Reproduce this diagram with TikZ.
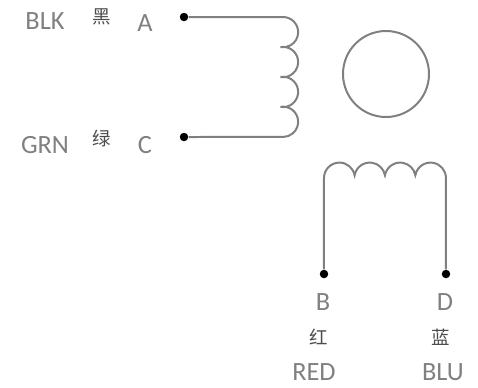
\documentclass[tikz,border=0pt]{standalone}
\usepackage{fontspec}
\setmainfont{Carlito}
\newfontfamily\cjk{Noto Sans CJK SC}
\tikzset{
	wire/.style={line width=0.04cm, draw=black!50},
	term/.style={circle, fill=black, inner sep=0, minimum size=0.17cm},
	lbl/.style={text=black!50, inner sep=0, font=\fontsize{15}{17}\selectfont},
	cjklbl/.style={text=black!70, inner sep=0, font=\cjk\fontsize{10.5}{12}\selectfont},
}

\begin{document}
\begin{tikzpicture}[x=0.02cm, y=0.02cm]
		%%%%% FRAME %%%%%
		\useasboundingbox (0, 0) rectangle (478, 387);
		
		\node[term] (termA) at (184, 370) {};
		\node[term] (termC) at (184, 250) {};
		\node[term] (termB) at (324, 113) {};
		\node[term] (termD) at (446, 113) {};
		
		\coordinate (coilA) at (283, 370);
		\coordinate (coilB) at (324, 209);
		
		%%%%% WINDINGS %%%%%
		\draw[wire] (termA) -- (coilA) arc (90:-100:15.17) arc (100:-100:15.17) arc (100:-100:15.17) arc (100:-90:15.17) -- (termC);
		\draw[wire] (termB) -- (coilB) arc (180:10:15.42) arc (170:10:15.42) arc (170:10:15.42) arc (170:0:15.42) -- (termD);
		
		%%%%% ROTOR %%%%%
		\draw[wire] (386, 313) circle (43);
		
		%%%%% LABELS %%%%%
		\node[lbl] (nameBLK) at (45, 366) {BLK};
		\node[cjklbl] (cjkBLK) at (102, 370) {黑};
		\node[lbl] (pinA) at (145, 364) {A};
		
		\node[lbl] (nameGRN) at (45, 242) {GRN};
		\node[cjklbl] (cjkGRN) at (102, 249) {绿};
		\node[lbl] (pinC) at (145, 242) {C};
		
		\node[lbl] (pinB) at (323, 85) {B};
		\node[cjklbl] (cjkRED) at (319, 50) {红};
		\node[lbl] (nameRED) at (314, 15) {RED};
		
		\node[lbl] (pinD) at (445, 85) {D};
		\node[cjklbl] (cjkBLU) at (441, 50) {蓝};
		\node[lbl] (nameBLU) at (443, 15) {BLU};
	\end{tikzpicture}
\end{document}
